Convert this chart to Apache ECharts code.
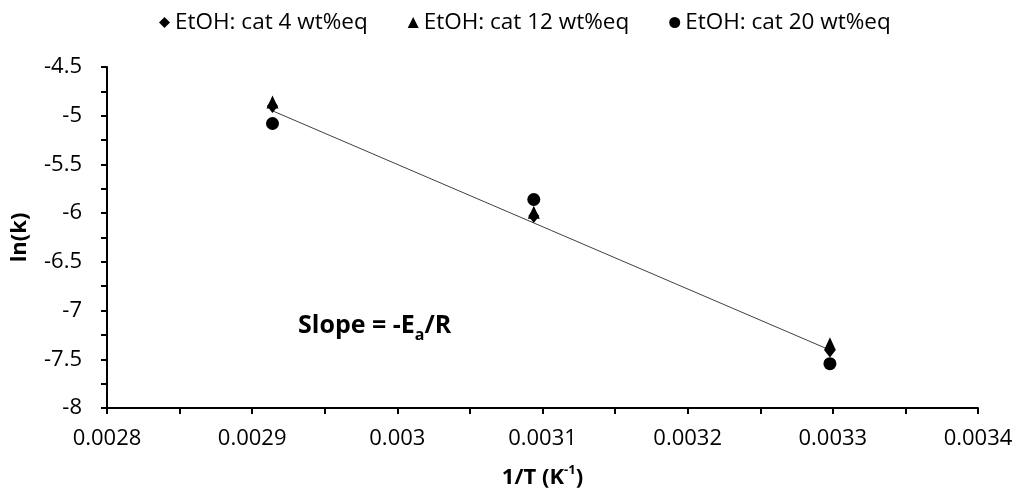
<!DOCTYPE html>
<html><head><meta charset="utf-8">
<script src="https://cdn.jsdelivr.net/npm/echarts@6/dist/echarts.min.js"></script>
<style>html,body{margin:0;padding:0;background:#fff}#c{width:1016px;height:493px}</style>
</head><body><div id="c"></div>
<script>
// x values: 1/T (K^-1)
const invT = [0.002914, 0.003094, 0.003298];
// ln(k) values per series
const cat4 = [-4.90, -6.03, -7.41];
const cat12 = [-4.86, -5.99, -7.34];
const cat20 = [-5.08, -5.86, -7.545];
const seriesNames = ['EtOH: cat 4 wt%eq', 'EtOH: cat 12 wt%eq', 'EtOH: cat 20 wt%eq'];
// linear trendline endpoints
const trendX = [0.002914, 0.003298];
const trendY = [-4.95, -7.405];
const xTicks = {min: 0.0028, max: 0.0034, interval: 0.0001};
const yTicks = {min: -8, max: -4.5, interval: 0.5};

const FONT = 'Open Sans';
const chart = echarts.init(document.getElementById('c'));
const pts = arr => invT.map((x, i) => [x, arr[i]]);
const fmt = v => parseFloat(v.toFixed(6)).toString();
const tickStyle = {color: '#000', width: 2};
chart.setOption({
  animation: false,
  backgroundColor: '#fff',
  textStyle: {fontFamily: FONT},
  legend: {
    top: 6, left: 154, itemGap: 40, itemWidth: 11, itemHeight: 11,
    data: [{name: seriesNames[0], icon: 'diamond'}, {name: seriesNames[1], icon: 'triangle'}, {name: seriesNames[2], icon: 'circle'}],
    textStyle: {fontFamily: FONT, fontSize: 22.5, color: '#000'}
  },
  grid: {left: 107, right: 38, top: 67, bottom: 85, containLabel: false, outerBoundsMode: 'none'},
  xAxis: {
    type: 'value', min: xTicks.min, max: xTicks.max, interval: xTicks.interval,
    name: '{n|1/T (K}{s|-1}{n|)}', nameLocation: 'middle', nameGap: 56,
    nameTextStyle: {rich: {n: {fontFamily: FONT, fontSize: 22, fontWeight: 'bold', color: '#000', lineHeight: 28}, s: {fontFamily: FONT, fontSize: 13, fontWeight: 'bold', color: '#000', verticalAlign: 'top', lineHeight: 28}}},
    axisLine: {lineStyle: {color: '#000', width: 2}},
    axisTick: {length: 6, lineStyle: tickStyle},
    minorTick: {show: true, splitNumber: 2, length: 6, lineStyle: tickStyle},
    splitLine: {show: false},
    axisLabel: {formatter: fmt, fontFamily: FONT, fontSize: 22, color: '#000', margin: 20}
  },
  yAxis: {
    type: 'value', min: yTicks.min, max: yTicks.max, interval: yTicks.interval,
    name: 'ln(k)', nameLocation: 'middle', nameGap: 76, nameRotate: 90,
    nameTextStyle: {fontFamily: FONT, fontSize: 22, fontWeight: 'bold', color: '#000'},
    axisLine: {lineStyle: {color: '#000', width: 2}},
    axisTick: {length: 6, lineStyle: tickStyle},
    minorTick: {show: true, splitNumber: 2, length: 6, lineStyle: tickStyle},
    splitLine: {show: false},
    axisLabel: {formatter: fmt, fontFamily: FONT, fontSize: 22, color: '#000', margin: 25}
  },
  graphic: [{
    type: 'text', left: 298, top: 313,
    style: {
      text: '{b|Slope = -E}{s|a}{b|/R}',
      rich: {
        b: {fontFamily: FONT, fontSize: 25, fontWeight: 'bold', fill: '#000', lineHeight: 34, verticalAlign: 'bottom'},
        s: {fontFamily: FONT, fontSize: 16, fontWeight: 'bold', fill: '#000', lineHeight: 34, verticalAlign: 'bottom', padding: [0, 0, -5, 0]}
      }
    }
  }],
  series: [
    {type: 'line', data: trendX.map((x, i) => [x, trendY[i]]), symbol: 'none', silent: true, lineStyle: {color: '#404040', width: 1}, z: 1},
    {name: seriesNames[0], type: 'scatter', symbol: 'diamond', symbolSize: [11, 14], itemStyle: {color: '#000', opacity: 1}, data: pts(cat4), z: 3},
    {name: seriesNames[1], type: 'scatter', symbol: 'triangle', symbolSize: [12, 13], itemStyle: {color: '#000', opacity: 1}, data: pts(cat12), z: 3},
    {name: seriesNames[2], type: 'scatter', symbol: 'circle', symbolSize: 13, itemStyle: {color: '#000', opacity: 1}, data: pts(cat20), z: 3}
  ]
});
</script></body></html>
